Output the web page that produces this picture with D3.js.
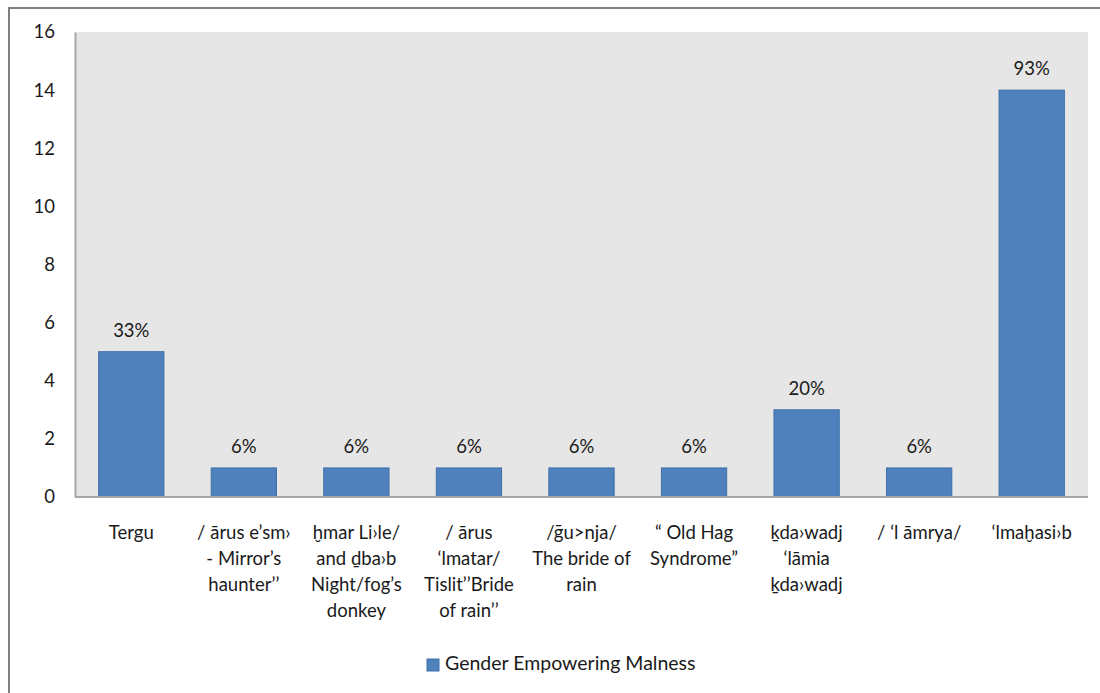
<!DOCTYPE html>
<html>
<head>
<meta charset="utf-8">
<script src="https://cdn.jsdelivr.net/npm/d3@7"></script>
<style>
  body { margin: 0; background: #fff; }
  text { font-family: Lato, "Open Sans", "DejaVu Sans", sans-serif; fill: #1a1a1a; font-weight: 400; }
</style>
</head>
<body>
<div id="chart"></div>
<script>
// category labels, one array of lines per bar
const categories = [
  ['Tergu'],
  ['/ \u0101rus e\u2019sm\u203a', '- Mirror\u2019s', 'haunter\u2019\u2019'],
  ['\u1e2bmar Li\u203ale/', 'and \u1e0fba\u203ab', 'Night/fog\u2019s', 'donkey'],
  ['/ \u0101rus', '\u2018lmatar/', 'Tislit\u2019\u2019Bride', 'of rain\u2019\u2019'],
  ['/\u1e21u>nja/', 'The bride of', 'rain'],
  ['\u201c Old Hag', 'Syndrome\u201d'],
  ['\u1e35da\u203awadj', '\u2018l\u0101mia', '\u1e35da\u203awadj'],
  ['/ \u2018l \u0101mrya/'],
  ['\u2018lma\u1e2basi\u203ab']
];
const values = [5, 1, 1, 1, 1, 1, 3, 1, 14];
const percentLabels = ['33%', '6%', '6%', '6%', '6%', '6%', '20%', '6%', '93%'];
const yTicks = [0, 2, 4, 6, 8, 10, 12, 14, 16];
const seriesName = 'Gender Empowering Malness';

(function() {
  const W = 1100, H = 693;
  const margin = { top: 32, right: 12, bottom: 196, left: 75 };
  const width = W - margin.left - margin.right;
  const height = H - margin.top - margin.bottom;
  const fontSize = '18.5px';

  const svg = d3.select('#chart')
    .append('svg')
    .attr('width', W)
    .attr('height', H);

  // outer chart border (right and bottom run off the picture)
  svg.append('rect')
    .attr('x', 9)
    .attr('y', 8)
    .attr('width', W)
    .attr('height', H)
    .attr('fill', 'none')
    .attr('stroke', '#808080')
    .attr('stroke-width', 2);

  const g = svg.append('g')
    .attr('transform', `translate(${margin.left}, ${margin.top})`);

  const idx = d3.range(values.length);
  const x = d3.scaleBand()
    .domain(idx)
    .range([0, width])
    .paddingInner(0.42)
    .paddingOuter(0.21);
  const y = d3.scaleLinear()
    .domain([0, 16])
    .range([height, 0]);

  // plot background
  g.append('rect')
    .attr('width', width)
    .attr('height', height)
    .attr('fill', '#e6e6e6');

  // bars
  g.selectAll('.bar')
    .data(idx)
    .enter()
    .append('rect')
    .attr('class', 'bar')
    .attr('x', i => x(i))
    .attr('y', i => y(values[i]))
    .attr('width', x.bandwidth())
    .attr('height', i => y(0) - y(values[i]))
    .attr('fill', '#4f81bd')
    .attr('stroke', '#3f6fa8')
    .attr('stroke-width', 1);

  // value labels
  g.selectAll('.val')
    .data(idx)
    .enter()
    .append('text')
    .attr('class', 'val')
    .attr('x', i => x(i) + x.bandwidth() / 2)
    .attr('y', i => y(values[i]) - 15)
    .attr('text-anchor', 'middle')
    .style('font-size', fontSize)
    .text(i => percentLabels[i]);

  // y axis
  const yAxis = d3.axisLeft(y).tickValues(yTicks).tickSize(0).tickPadding(20);
  const ya = g.append('g').call(yAxis);
  ya.select('.domain').attr('stroke', '#a6a6a6').attr('stroke-width', 2);
  ya.selectAll('text')
    .style('font-size', fontSize)
    .style('font-family', 'Lato, "Open Sans", sans-serif')
    .attr('fill', '#1a1a1a');

  // x axis line
  g.append('line')
    .attr('x1', 0)
    .attr('x2', width)
    .attr('y1', height)
    .attr('y2', height)
    .attr('stroke', '#a6a6a6')
    .attr('stroke-width', 2);

  // category labels
  const cat = g.selectAll('.cat')
    .data(idx)
    .enter()
    .append('text')
    .attr('class', 'cat')
    .attr('text-anchor', 'middle')
    .style('font-size', fontSize)
    .attr('transform', i => `translate(${x(i) + x.bandwidth() / 2}, ${height + 42})`);
  cat.selectAll('tspan')
    .data(i => categories[i])
    .enter()
    .append('tspan')
    .attr('x', 0)
    .attr('y', (d, j) => j * 26)
    .text(d => d);

  // legend
  const legend = svg.append('g')
    .attr('transform', 'translate(427, 659)');
  legend.append('rect')
    .attr('width', 12)
    .attr('height', 12)
    .attr('fill', '#4f81bd')
    .attr('stroke', '#3f6fa8');
  legend.append('text')
    .attr('x', 18)
    .attr('y', 6)
    .attr('dominant-baseline', 'middle')
    .style('font-size', '19.5px')
    .text(seriesName);
})();
</script>
</body>
</html>
